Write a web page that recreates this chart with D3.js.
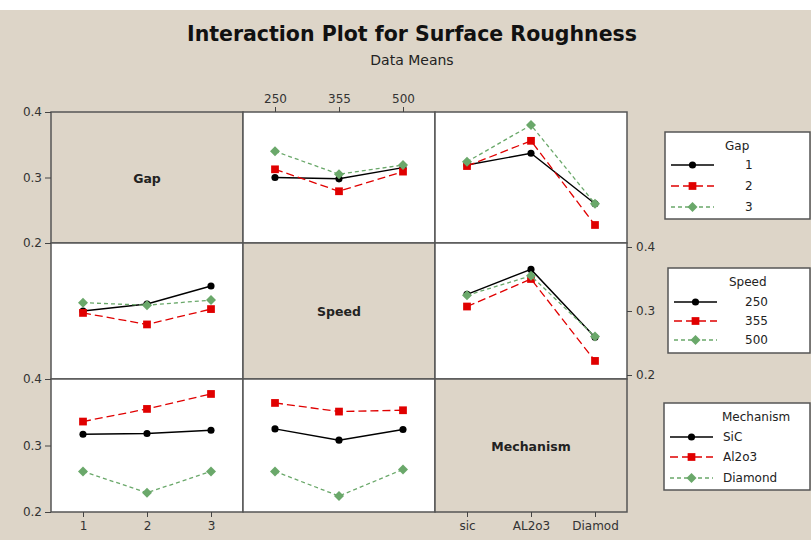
<!DOCTYPE html>
<html>
<head>
<meta charset="utf-8">
<script src="https://cdn.jsdelivr.net/npm/d3@7"></script>
<style>
  body { margin: 0; background: #fff; }
  svg { display: block; font-family: "DejaVu Sans", Verdana, sans-serif; }
</style>
</head>
<body>
<svg width="811" height="540"></svg>
<script>
// factor levels / tick labels
var gapLevels = ["1", "2", "3"];
var speedLevels = ["250", "355", "500"];
var mechLevels = ["sic", "AL2o3", "Diamod"];
var mechLegend = ["SiC", "Al2o3", "Diamond"];
var yTicks = [0.2, 0.3, 0.4];

// means, one row per series level
var gapBySpeed = [[0.300, 0.298, 0.315], [0.3125, 0.279, 0.309], [0.340, 0.305, 0.319]];
var gapByMech = [[0.319, 0.337, 0.260], [0.3175, 0.356, 0.2275], [0.324, 0.380, 0.260]];
var speedByGap = [[0.300, 0.311, 0.339], [0.297, 0.279, 0.303], [0.313, 0.309, 0.317]];
var speedByMech = [[0.326, 0.365, 0.259], [0.307, 0.350, 0.222], [0.3245, 0.355, 0.260]];
var mechByGap = [[0.317, 0.318, 0.323], [0.336, 0.355, 0.3775], [0.261, 0.229, 0.261]];
var mechBySpeed = [[0.325, 0.308, 0.324], [0.364, 0.351, 0.353], [0.261, 0.224, 0.264]];

var svg = d3.select('svg');
var bg = '#ddd5c8';
var colors = ['#000000', '#e00000', '#6aa86a'];
var dashes = [null, '8,4', '4,3'];
var sizes = [40, 60, 50];
var rotations = [0, 0, 45];
var shapes = [d3.symbolCircle, d3.symbolSquare, d3.symbolSquare];

function marker(sel, k, cx, cy) {
  sel.append('path')
    .attr('transform', 'translate(' + cx + ',' + cy + ') rotate(' + rotations[k] + ')')
    .attr('d', d3.symbol().type(shapes[k]).size(sizes[k]))
    .attr('fill', colors[k]);
}

svg.append('rect').attr('width', 811).attr('height', 540).attr('fill', bg);
svg.append('rect').attr('width', 811).attr('height', 10).attr('fill', '#fff');

svg.append('text').attr('x', 412).attr('y', 41).attr('text-anchor', 'middle')
  .attr('font-weight', 'bold').attr('font-size', 21).attr('fill', '#111')
  .attr('textLength', 450).attr('lengthAdjust', 'spacingAndGlyphs')
  .text('Interaction Plot for Surface Roughness');
svg.append('text').attr('x', 412).attr('y', 65).attr('text-anchor', 'middle')
  .attr('font-size', 14).attr('fill', '#222').text('Data Means');

var cols = [[51, 243], [243, 435], [435, 627]];
var rows = [[112, 243], [243, 379], [379, 512]];
var yRanges = [[243, 112], [375, 247], [512, 379]];
var levels = [gapLevels, speedLevels, mechLevels];
var names = ['Gap', 'Speed', 'Mechanism'];
var cells = {
  '0-1': gapBySpeed, '0-2': gapByMech,
  '1-0': speedByGap, '1-2': speedByMech,
  '2-0': mechByGap, '2-1': mechBySpeed
};

var x = cols.map(function (c, j) {
  return d3.scalePoint().domain(levels[j]).range(c).padding(0.5);
});
var y = yRanges.map(function (r) {
  return d3.scaleLinear().domain([0.2, 0.4]).range(r);
});

// panels
for (var i = 0; i < 3; i++) {
  for (var j = 0; j < 3; j++) {
    var g = svg.append('g');
    g.append('rect')
      .attr('x', cols[j][0]).attr('y', rows[i][0])
      .attr('width', cols[j][1] - cols[j][0]).attr('height', rows[i][1] - rows[i][0])
      .attr('fill', i === j ? bg : '#fff')
      .attr('stroke', '#555').attr('stroke-width', 1.5);
    if (i === j) {
      g.append('text')
        .attr('x', (cols[j][0] + cols[j][1]) / 2)
        .attr('y', (rows[i][0] + rows[i][1]) / 2 + 5)
        .attr('text-anchor', 'middle').attr('font-weight', 'bold')
        .attr('font-size', 12.5).attr('fill', '#222')
        .text(names[i]);
      continue;
    }
    var data = cells[i + '-' + j];
    var xs = x[j], ys = y[i];
    data.forEach(function (vals, k) {
      var pts = vals.map(function (v, n) { return [xs(levels[j][n]), ys(v)]; });
      g.append('path').datum(pts)
        .attr('d', d3.line())
        .attr('fill', 'none')
        .attr('stroke', colors[k])
        .attr('stroke-width', k === 0 ? 1.4 : 1.3)
        .attr('stroke-dasharray', dashes[k]);
      pts.forEach(function (p) { marker(g, k, p[0], p[1]); });
    });
  }
}

// axes
function styleAxis(sel) {
  sel.selectAll('.domain').remove();
  sel.selectAll('line').attr('stroke', '#444');
  sel.selectAll('text').attr('font-size', 12).attr('fill', '#333')
    .attr('font-family', '"DejaVu Sans", Verdana, sans-serif');
}
svg.append('g').attr('transform', 'translate(51,0)')
  .call(d3.axisLeft(y[0]).tickValues(yTicks).tickFormat(d3.format('.1f')).tickSize(6).tickPadding(3))
  .call(styleAxis);
svg.append('g').attr('transform', 'translate(51,0)')
  .call(d3.axisLeft(y[2]).tickValues(yTicks).tickFormat(d3.format('.1f')).tickSize(6).tickPadding(3))
  .call(styleAxis);
svg.append('g').attr('transform', 'translate(627,0)')
  .call(d3.axisRight(y[1]).tickValues(yTicks).tickFormat(d3.format('.1f')).tickSize(5).tickPadding(4))
  .call(styleAxis);
svg.append('g').attr('transform', 'translate(0,112)')
  .call(d3.axisTop(x[1]).tickSize(5).tickPadding(4))
  .call(styleAxis);
svg.append('g').attr('transform', 'translate(0,512)')
  .call(d3.axisBottom(x[0]).tickSize(5).tickPadding(4))
  .call(styleAxis);
svg.append('g').attr('transform', 'translate(0,512)')
  .call(d3.axisBottom(x[2]).tickSize(5).tickPadding(4))
  .call(styleAxis);

// legends
var legends = [
  { title: 'Gap', items: gapLevels, x0: 665, y0: 132, y1: 219, titleX: 725, labelX: 745, titleY: 150, itemY: [165, 186, 207] },
  { title: 'Speed', items: speedLevels, x0: 668, y0: 268, y1: 353, titleX: 729, labelX: 745, titleY: 286, itemY: [302, 321, 340] },
  { title: 'Mechanism', items: mechLegend, x0: 664, y0: 403, y1: 490, titleX: 722, labelX: 723, titleY: 421, itemY: [437, 457, 478] }
];
legends.forEach(function (L) {
  var g = svg.append('g');
  g.append('rect').attr('x', L.x0).attr('y', L.y0)
    .attr('width', 810 - L.x0).attr('height', L.y1 - L.y0)
    .attr('fill', '#fff').attr('stroke', '#555').attr('stroke-width', 1.5);
  g.append('text').attr('x', L.titleX).attr('y', L.titleY)
    .attr('font-size', 12).attr('fill', '#222').text(L.title);
  L.items.forEach(function (lab, k) {
    var yy = L.itemY[k];
    var sx0 = L.x0 + 6, sx1 = L.x0 + 49;
    g.append('line').attr('x1', sx0).attr('x2', sx1).attr('y1', yy).attr('y2', yy)
      .attr('stroke', colors[k]).attr('stroke-width', 1.3)
      .attr('stroke-dasharray', dashes[k]);
    marker(g, k, (sx0 + sx1) / 2, yy);
    g.append('text').attr('x', L.labelX).attr('y', yy + 4)
      .attr('font-size', 12).attr('fill', '#222').text(lab);
  });
});
</script>
</body>
</html>
